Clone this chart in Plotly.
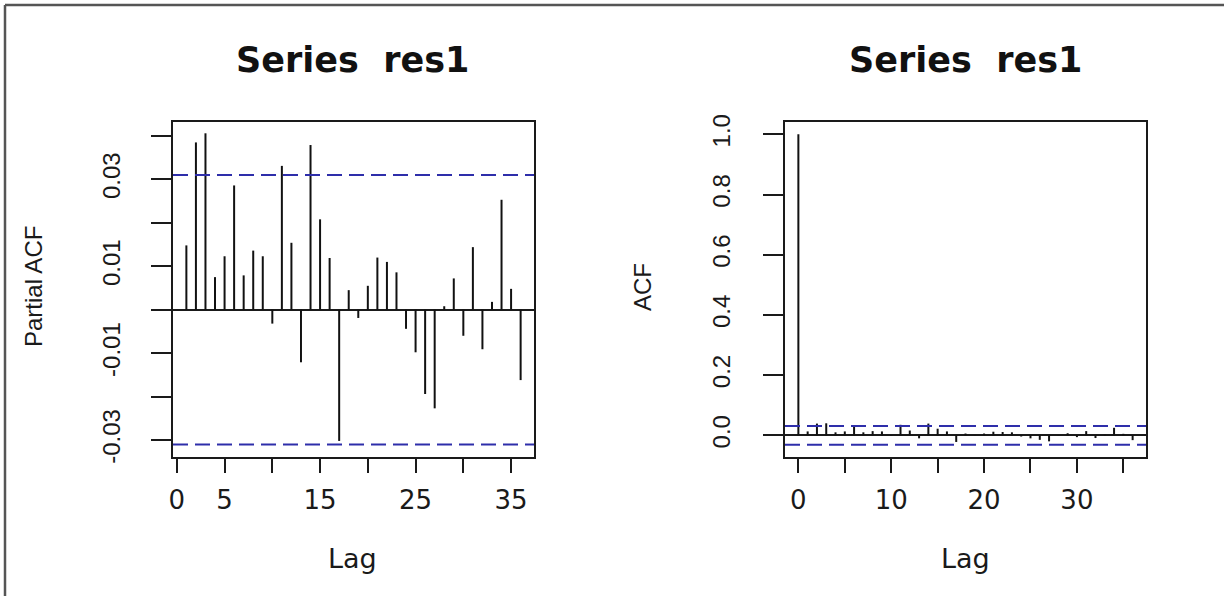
import plotly.graph_objects as go

# ---------------- data ----------------
pacf_lags = list(range(1, 37))
pacf_vals = [0.0148, 0.0385, 0.0406, 0.0075, 0.0123, 0.0286, 0.0079, 0.0136, 0.0123, -0.0032,
             0.0331, 0.0154, -0.0121, 0.0379, 0.0208, 0.0119, -0.0302, 0.0045, -0.0019, 0.0055,
             0.0120, 0.0110, 0.0086, -0.0044, -0.0098, -0.0194, -0.0227, 0.0008, 0.0072, -0.0060,
             0.0144, -0.0091, 0.0018, 0.0253, 0.0048, -0.0162]

acf_lags = list(range(0, 37))
acf_vals = [1.0, 0.013, 0.039, 0.040, 0.010, 0.013, 0.030, 0.010, 0.014, 0.013, -0.002,
            0.035, 0.016, -0.010, 0.039, 0.022, 0.013, -0.022, 0.006, -0.001,
            0.006, 0.012, 0.011, 0.010, -0.004, -0.010, -0.015, -0.020, 0.001, 0.007, -0.006,
            0.014, -0.009, 0.002, 0.025, 0.005, -0.016]

conf_limit = 0.031

pacf_yticks = [-0.03, -0.02, -0.01, 0.0, 0.01, 0.02, 0.03, 0.04]
pacf_ytext = ["-0.03", "", "-0.01", "", "0.01", "", "0.03", ""]
pacf_xticks = [0, 5, 10, 15, 20, 25, 30, 35]
pacf_xtext = ["0", "5", "", "15", "", "25", "", "35"]

acf_yticks = [0.0, 0.2, 0.4, 0.6, 0.8, 1.0]
acf_ytext = ["0.0", "0.2", "0.4", "0.6", "0.8", "1.0"]
acf_xticks = [0, 5, 10, 15, 20, 25, 30, 35]
acf_xtext = ["0", "", "10", "", "20", "", "30", ""]

title_text = "Series  res1"

# ---------------- layout geometry ----------------
W, H = 1224, 596
def px_x(p):
    return p / W
def px_y(p):
    return 1 - p / H

left_dom = [px_x(173), px_x(534)]
right_dom = [px_x(785), px_x(1146)]
y_dom = [px_y(457), px_y(122)]


def segments(lags, vals):
    xs, ys = [], []
    for l, v in zip(lags, vals):
        xs += [l, l, None]
        ys += [0, v, None]
    return xs, ys


fig = go.Figure()
xs, ys = segments(pacf_lags, pacf_vals)
fig.add_trace(go.Scatter(x=xs, y=ys, mode="lines", line=dict(color="#111111", width=2),
                         xaxis="x", yaxis="y", showlegend=False, hoverinfo="skip"))
xs, ys = segments(acf_lags, acf_vals)
fig.add_trace(go.Scatter(x=xs, y=ys, mode="lines", line=dict(color="#111111", width=2),
                         xaxis="x2", yaxis="y2", showlegend=False, hoverinfo="skip"))

axis_line = dict(showline=True, linecolor="#1a1a1a", linewidth=1.8, mirror=True,
                 showgrid=False, ticks="outside", tickcolor="#1a1a1a", tickwidth=1.8)
xfont = dict(family="DejaVu Sans", size=26, color="#1a1a1a")
yfont = dict(family="Liberation Sans, Arial", size=24, color="#1a1a1a")

fig.update_layout(
    width=W, height=H,
    margin=dict(l=0, r=0, t=0, b=0, autoexpand=False),
    paper_bgcolor="white", plot_bgcolor="white",
    xaxis=dict(domain=left_dom, range=[-0.4, 37.4], anchor="y", zeroline=False,
               tickvals=pacf_xticks, ticktext=pacf_xtext, ticklen=14,
               tickfont=xfont, ticklabelstandoff=5, **axis_line),
    yaxis=dict(domain=y_dom, range=[-0.0339, 0.0432], anchor="x",
               tickvals=pacf_yticks, ticktext=pacf_ytext, ticklen=20, tickangle=-90,
               tickfont=yfont, ticklabelstandoff=22,
               zeroline=True, zerolinecolor="#1a1a1a", zerolinewidth=1.8, **axis_line),
    xaxis2=dict(domain=right_dom, range=[-1.44, 37.44], anchor="y2", zeroline=False,
                tickvals=acf_xticks, ticktext=acf_xtext, ticklen=14,
                tickfont=xfont, ticklabelstandoff=5, **axis_line),
    yaxis2=dict(domain=y_dom, range=[-0.072, 1.041], anchor="x2",
                tickvals=acf_yticks, ticktext=acf_ytext, ticklen=20, tickangle=-90,
                tickfont=yfont, ticklabelstandoff=24,
                zeroline=True, zerolinecolor="#1a1a1a", zerolinewidth=1.8, **axis_line),
)

# confidence bands
ci_style = dict(color="#2e2eaa", width=2, dash="15px,7px")
for xr, yr in [("x domain", "y"), ("x2 domain", "y2")]:
    for s in (1, -1):
        fig.add_shape(type="line", xref=xr, yref=yr, x0=0, x1=1,
                      y0=s * conf_limit, y1=s * conf_limit, line=ci_style)

# outer document frame
frame = dict(color="#555555", width=2.5)
fig.add_shape(type="line", xref="paper", yref="paper", x0=px_x(5), x1=1,
              y0=px_y(5), y1=px_y(5), line=frame)
fig.add_shape(type="line", xref="paper", yref="paper", x0=px_x(5), x1=px_x(5),
              y0=px_y(5), y1=0, line=frame)

# titles and axis labels
tfont = dict(family="DejaVu Sans", size=35, color="#111111")
for cx in (353, 965):
    fig.add_annotation(text="<b>" + title_text + "</b>", xref="paper", yref="paper",
                       x=px_x(cx), y=px_y(60), showarrow=False, font=tfont,
                       xanchor="center", yanchor="middle")
    fig.add_annotation(text="Lag", xref="paper", yref="paper",
                       x=px_x(cx), y=px_y(558), showarrow=False,
                       font=dict(family="DejaVu Sans", size=27, color="#1a1a1a"),
                       xanchor="center", yanchor="middle")

fig.add_annotation(text="Partial ACF", xref="paper", yref="paper", x=px_x(34), y=px_y(287),
                   showarrow=False, textangle=-90,
                   font=dict(family="Liberation Sans, Arial", size=24, color="#1a1a1a"),
                   xanchor="center", yanchor="middle")
fig.add_annotation(text="ACF", xref="paper", yref="paper", x=px_x(643), y=px_y(287),
                   showarrow=False, textangle=-90,
                   font=dict(family="Liberation Sans, Arial", size=24, color="#1a1a1a"),
                   xanchor="center", yanchor="middle")

fig.write_html("out.html")
